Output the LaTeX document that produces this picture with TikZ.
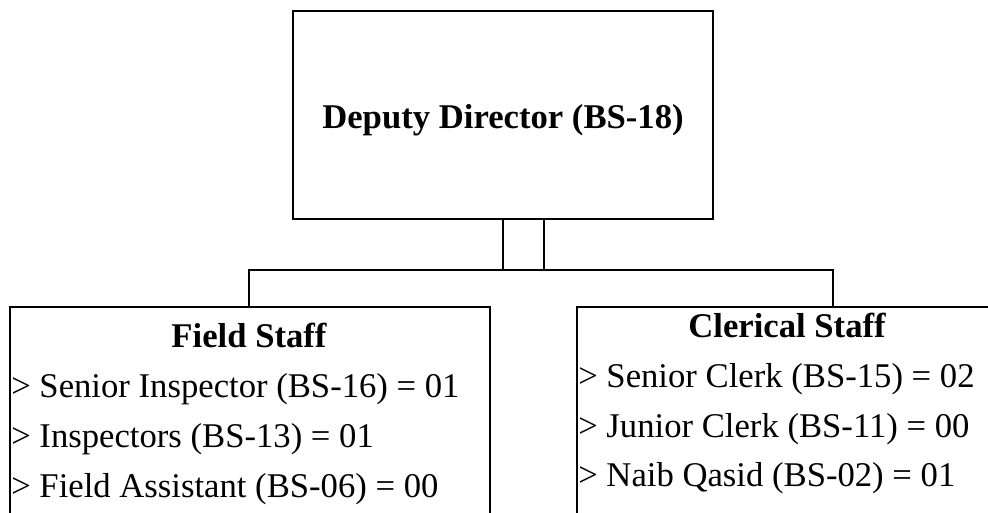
\documentclass[tikz,border=0pt]{standalone}
\usepackage{fontspec}
\setmainfont{Liberation Serif}
\begin{document}
\begin{tikzpicture}[x=0.75pt,y=-0.75pt,
  box/.style={draw=black,line width=1.5pt,inner sep=0pt,outer sep=0pt,anchor=north west},
  line/.style={draw=black,line width=1.5pt},
  ttl/.style={font=\fontsize{26}{30}\selectfont\bfseries,anchor=base,inner sep=0pt},
  item/.style={font=\fontsize{26}{30}\selectfont,anchor=base west,inner sep=0pt}]
\useasboundingbox (0,0) rectangle (988,512);
% boxes
\node[box,minimum width=420*0.75pt,minimum height=208*0.75pt] (top) at (293,11) {};
\node[box,minimum width=480*0.75pt,minimum height=240*0.75pt] (field) at (10,307) {};
\node[box,minimum width=440*0.75pt,minimum height=240*0.75pt] (cler) at (577,307) {};
% texts
\node[ttl] (tt) at (503,128) {Deputy Director (BS-18)};
\node[ttl] (ft) at (249,347) {Field Staff};
\node[item] (f1) at (11,397) {> Senior Inspector (BS-16) = 01};
\node[item] (f2) at (11,447) {> Inspectors (BS-13) = 01};
\node[item] (f3) at (11,497) {> Field Assistant (BS-06) = 00};
\node[ttl] (ct) at (787,337) {Clerical Staff};
\node[item] (c1) at (578,387) {> Senior Clerk (BS-15) = 02};
\node[item] (c2) at (578,437) {> Junior Clerk (BS-11) = 00};
\node[item] (c3) at (578,486) {> Naib Qasid (BS-02) = 01};
% connectors
\coordinate (j1) at (503,270);
\coordinate (j2) at (544,270);
\draw[line] (top.south) -- (j1);
\draw[line] (top.south -| j2) -- (j2);
\draw[line] (field.north -| 249,0) -- (249,270) -- (833,270) -- (cler.north -| 833,0);
\end{tikzpicture}
\end{document}
